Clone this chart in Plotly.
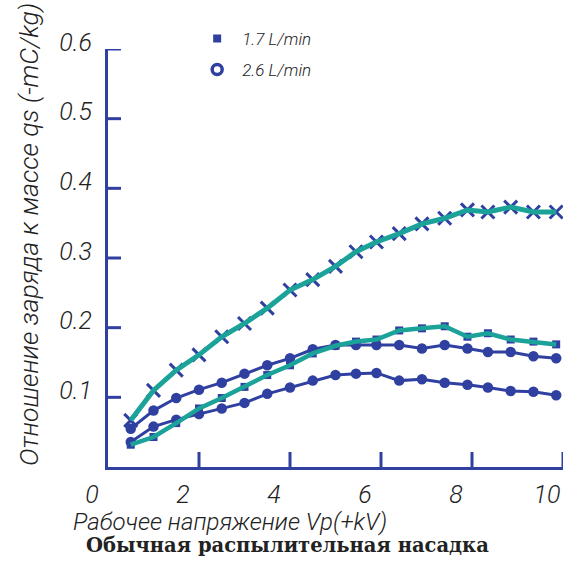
import plotly.graph_objects as go

# Operating voltage, kV
voltage = [0.5, 1.0, 1.5, 2.0, 2.5, 3.0, 3.5, 4.0, 4.5, 5.0,
           5.45, 5.9, 6.4, 6.9, 7.4, 7.9, 8.35, 8.85, 9.35, 9.85]

# Charge-to-mass ratio qs, -mC/kg
qs_cross = [0.067, 0.110, 0.139, 0.161, 0.187, 0.206, 0.228, 0.254, 0.269, 0.288,
            0.309, 0.323, 0.335, 0.349, 0.357, 0.369, 0.366, 0.373, 0.366, 0.366]
qs_upper = [0.055, 0.081, 0.099, 0.111, 0.121, 0.134, 0.146, 0.156, 0.169, 0.175,
            0.175, 0.175, 0.175, 0.170, 0.175, 0.170, 0.165, 0.165, 0.159, 0.156]
qs_green = [0.032, 0.043, 0.063, 0.084, 0.099, 0.115, 0.132, 0.146, 0.163, 0.174,
            0.180, 0.183, 0.196, 0.199, 0.202, 0.187, 0.192, 0.183, 0.180, 0.176]
qs_lower = [0.036, 0.058, 0.068, 0.076, 0.084, 0.092, 0.105, 0.114, 0.124, 0.132,
            0.134, 0.135, 0.124, 0.126, 0.121, 0.118, 0.114, 0.109, 0.108, 0.103]

x_ticks = [0, 2, 4, 6, 8, 10]
y_ticks = [0.1, 0.2, 0.3, 0.4, 0.5, 0.6]
legend_labels = ["1.7 L/min", "2.6 L/min"]

BLUE = "#3040a0"
TEAL = "#1ba39a"
LABEL_FONT = dict(family="Roboto, Liberation Sans Narrow, sans-serif",
                  style="italic", weight=300, color="#222222")

fig = go.Figure()

# lower circle series
fig.add_trace(go.Scatter(x=voltage, y=qs_lower, mode="lines+markers",
                         line=dict(color=BLUE, width=3),
                         marker=dict(symbol="circle", size=10.5, color=BLUE),
                         showlegend=False))
# upper circle series
fig.add_trace(go.Scatter(x=voltage, y=qs_upper, mode="lines+markers",
                         line=dict(color=BLUE, width=3),
                         marker=dict(symbol="circle", size=10.5, color=BLUE),
                         showlegend=False))
# green series with small markers under the teal line
fig.add_trace(go.Scatter(x=voltage, y=qs_green, mode="lines+markers",
                         line=dict(color=BLUE, width=3),
                         marker=dict(symbol="square", size=8, color=BLUE),
                         showlegend=False))
fig.add_trace(go.Scatter(x=voltage, y=qs_green, mode="lines",
                         line=dict(color=TEAL, width=4.5),
                         showlegend=False))
# cross-marked series
fig.add_trace(go.Scatter(x=voltage, y=qs_cross, mode="markers",
                         marker=dict(symbol="x-thin", size=13,
                                     line=dict(color=BLUE, width=3)),
                         showlegend=False))
fig.add_trace(go.Scatter(x=voltage, y=qs_cross, mode="lines",
                         line=dict(color=TEAL, width=5),
                         showlegend=False))

# legend entries (marker only)
fig.add_trace(go.Scatter(x=[None], y=[None], mode="markers", name=legend_labels[0],
                         marker=dict(symbol="square", size=8, color=BLUE),
                         legend="legend"))
fig.add_trace(go.Scatter(x=[None], y=[None], mode="markers", name=legend_labels[1],
                         marker=dict(symbol="circle-open", size=10, color=BLUE,
                                     line=dict(color=BLUE, width=3.5)),
                         legend="legend2"))

# crossing tick marks
for v in x_ticks[1:]:
    fig.add_shape(type="line", xref="x", yref="y", x0=v, x1=v,
                  ysizemode="pixel", yanchor=0, y0=-15, y1=15,
                  line=dict(color=BLUE, width=3))
for v in y_ticks:
    fig.add_shape(type="line", xref="x", yref="y", y0=v, y1=v,
                  xsizemode="pixel", xanchor=0, x0=-13, x1=13,
                  line=dict(color=BLUE, width=3))

legend_style = dict(font=dict(size=17, **LABEL_FONT), bgcolor="rgba(0,0,0,0)",
                    xanchor="left", yanchor="middle", x=0.185,
                    itemwidth=40)

fig.update_layout(
    width=565, height=563,
    margin=dict(l=108, r=2, t=49, b=96),
    paper_bgcolor="white", plot_bgcolor="white",
    legend=dict(y=1.024, **legend_style),
    legend2=dict(y=0.950, **legend_style),
    xaxis=dict(range=[0, 10], tickvals=x_ticks, ticks="",
               showgrid=False, zeroline=False,
               showline=True, linecolor=BLUE, linewidth=3,
               tickfont=dict(size=25, **LABEL_FONT),
               ticklabelshift=-16, ticklabelstandoff=3),
    yaxis=dict(range=[0, 0.6], tickvals=y_ticks, ticks="",
               tickformat=".1f",
               showgrid=False, zeroline=False,
               showline=True, linecolor=BLUE, linewidth=3,
               tickfont=dict(size=25, **LABEL_FONT),
               ticklabelshift=-7, ticklabelstandoff=8),
    annotations=[
        dict(text="Рабочее напряжение Vp(+kV)",
             xref="paper", yref="paper", x=(230 - 108) / 455, y=-(522 - 467) / 418,
             xanchor="center", yanchor="middle", showarrow=False,
             font=dict(size=24, **LABEL_FONT)),
        dict(text="Отношение заряда к массе qs (-mC/kg)", textangle=-90,
             xref="paper", yref="paper", x=-(108 - 28) / 455, y=(467 - 235) / 418,
             xanchor="center", yanchor="middle", showarrow=False,
             font=dict(size=26.5, **LABEL_FONT)),
        dict(text="<b>Обычная распылительная насадка</b>",
             xref="paper", yref="paper", x=(287 - 108) / 455, y=-(545 - 467) / 418,
             xanchor="center", yanchor="middle", showarrow=False,
             font=dict(family="DejaVu Serif, serif", size=19.5, color="#222222")),
    ],
)

fig.write_html("out.html")
